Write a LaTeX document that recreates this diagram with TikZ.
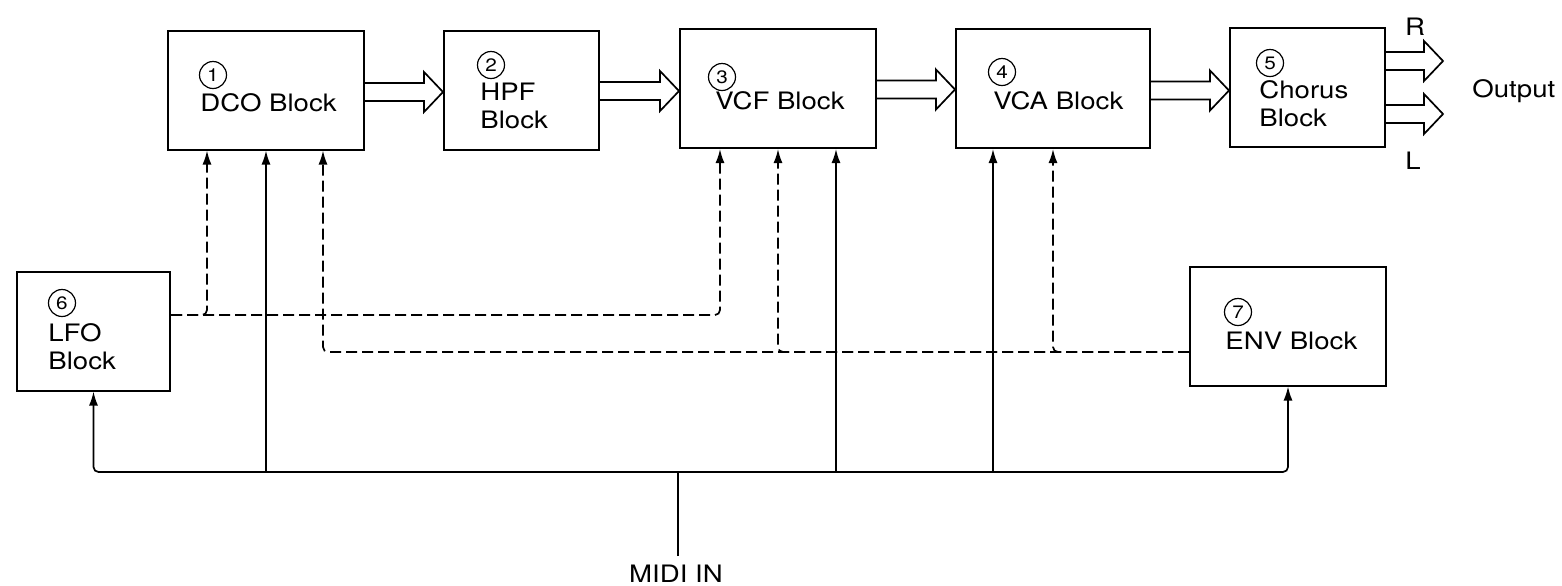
\documentclass[tikz,border=0pt]{standalone}
\usepackage{fontspec}
\setmainfont[FakeStretch=1.15]{TeX Gyre Heros}
\usetikzlibrary{calc,arrows.meta}

\begin{document}
\begin{tikzpicture}[x=0.5pt,y=-0.5pt,
   font=\fontsize{12}{14}\selectfont,
   blk/.style={draw, line width=1pt, inner sep=0pt, minimum width=#1, minimum height=59.5pt},
   blk/.default=98pt,
   num/.style={draw, circle, line width=0.6pt, inner sep=0pt, minimum size=13.5pt, font=\fontsize{9}{9}\selectfont},
   txt/.style={anchor=north west, inner sep=0pt, align=left},
   sig/.style={line width=0.85pt, rounded corners=2.5pt, -{Latex[length=7pt,width=4.5pt]}},
   ctl/.style={sig, dash pattern=on 5.5pt off 2.5pt},
   bus/.style={line width=0.85pt, rounded corners=2.5pt},
   fat/.style={line width=0.85pt, to path={let \p1=(\tikztostart), \p2=(\tikztotarget) in
      (\x1,\y1+4.5pt) -- (\x2-9.5pt,\y1+4.5pt) -- (\x2-9.5pt,\y1+10pt) -- (\x2,\y1)
      -- (\x2-9.5pt,\y1-10pt) -- (\x2-9.5pt,\y1-4.5pt) -- (\x1,\y1-4.5pt)}}]
\useasboundingbox (0,0) rectangle (1562,585);

\node[blk] (dco) at (266,90) {};
\node[blk=77.5pt] (hpf) at (521.5,90) {};
\node[blk] (vcf) at (778,88.5) {};
\node[blk=97pt] (vca) at (1053,88.5) {};
\node[blk=77.5pt] (cho) at (1307.5,87.5) {};
\node[blk=76.5pt] (lfo) at (93.5,331) {};
\node[blk] (env) at (1288,326) {};

\node[num] (n1) at (213,75) {1};
\node[txt] (t1) at (200,93) {DCO Block};
\node[num] (n2) at (491,65) {2};
\node[txt] (t2) at (480,83) {HPF\\Block};
\node[num] (n3) at (722,77) {3};
\node[txt] (t3) at (715,91) {VCF Block};
\node[num] (n4) at (1002,72) {4};
\node[txt] (t4) at (993,91) {VCA Block};
\node[num] (n5) at (1270,63) {5};
\node[txt] (t5) at (1259,80) {Chorus\\Block};
\node[num] (n6) at (62,303) {6};
\node[txt] (t6) at (48,323) {LFO\\Block};
\node[num] (n7) at (1238,312) {7};
\node[txt] (t7) at (1225,332) {ENV Block};

\draw[fat] ([yshift=-1pt]dco.east) to (hpf.west);
\draw[fat] ([yshift=-0.5pt]hpf.east) to (vcf.west);
\draw[fat] ([yshift=-0.5pt]vcf.east) to (vca.west);
\draw[fat] ([yshift=-1pt]vca.east) to (cho.west);

\coordinate (outR) at (1443,61);
\coordinate (outL) at (1443,114);
\draw[fat] (cho.east |- outR) to (outR);
\draw[fat] (cho.east |- outL) to (outL);
\node[anchor=base] (lblR) at (1415,35) {R};
\node[anchor=base] (lblL) at (1413,169) {L};
\node[anchor=base west, inner sep=0pt] (lblout) at (1472,97) {Output};

\coordinate (dco1) at ([xshift=-29.5pt]dco.south);
\coordinate (dco3) at ([xshift=28.5pt]dco.south);
\coordinate (vcf1) at ([xshift=-29pt]vcf.south);
\coordinate (vcf3) at ([xshift=29pt]vcf.south);
\coordinate (vca1) at ([xshift=-30pt]vca.south);
\coordinate (lfoout) at ([yshift=8pt]lfo.east);
\coordinate (envout) at ([yshift=-13pt]env.west);

\draw[ctl] (lfoout) -| (dco1);
\draw[ctl] (lfoout) -| (vcf1);
\draw[ctl] (envout) -| (dco3);
\draw[ctl] (envout) -| (vcf.south);
\draw[ctl] (envout) -| (vca.south);

\coordinate (bus) at (678,472);
\coordinate (midi) at (678,556);
\node[anchor=base] (lblmidi) at (676,582) {MIDI IN};
\draw[bus] (midi) -- (bus);
\draw[sig] (bus) -| (lfo.south);
\draw[sig] (bus) -| (env.south);
\draw[sig] (dco.south |- bus) -- (dco.south);
\draw[sig] (vcf3 |- bus) -- (vcf3);
\draw[sig] (vca1 |- bus) -- (vca1);
\end{tikzpicture}
\end{document}
